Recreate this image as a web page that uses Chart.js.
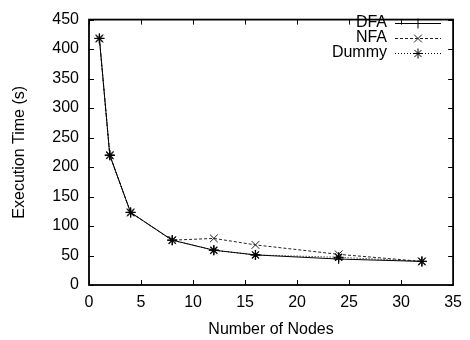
<!DOCTYPE html>
<html><head><meta charset="utf-8">
<script src="https://cdn.jsdelivr.net/npm/chart.js@4/dist/chart.umd.min.js"></script>
<style>html,body{margin:0;padding:0;background:#fff}#wrap{width:470px;height:340px}</style>
</head><body><div id="wrap"><canvas id="c" width="470" height="340"></canvas></div>
<script>
const nodes = [1, 2, 4, 8, 12, 16, 24, 32];
const dfaTimes = [418, 220, 123, 76, 59, 51, 44, 40];
const nfaTimes = [418, 220, 123, 76, 79, 68, 52, 40];
const dummyTimes = [418, 220, 123, 76, 59, 51, 47, 40];
const xTickValues = [0, 5, 10, 15, 20, 25, 30, 35];
const yTickValues = [0, 50, 100, 150, 200, 250, 300, 350, 400, 450];
const seriesLabels = ['DFA', 'NFA', 'Dummy'];

const FONT = 'Liberation Sans, Arial, Helvetica, sans-serif';
const FS = 16;

function pts(ys) { return nodes.map((x, i) => ({x: x, y: ys[i]})); }

const gnuplotFrame = {
  id: 'gnuplotFrame',
  afterDraw(chart) {
    const {ctx, chartArea: a, scales: {x, y}} = chart;
    ctx.save();
    ctx.strokeStyle = '#000';
    ctx.lineWidth = 1;
    ctx.setLineDash([]);
    const L = 5;
    ctx.beginPath();
    x.ticks.forEach(t => {
      const px = Math.round(x.getPixelForValue(t.value)) + 0.5;
      ctx.moveTo(px, a.bottom); ctx.lineTo(px, a.bottom - L);
      ctx.moveTo(px, a.top); ctx.lineTo(px, a.top + L);
    });
    y.ticks.forEach(t => {
      const py = Math.round(y.getPixelForValue(t.value)) + 0.5;
      ctx.moveTo(a.left, py); ctx.lineTo(a.left + L, py);
      ctx.moveTo(a.right, py); ctx.lineTo(a.right - L, py);
    });
    ctx.stroke();
    ctx.lineWidth = 1.8;
    ctx.strokeRect(a.left, a.top, a.right - a.left, a.bottom - a.top);
    ctx.restore();
  }
};

const gnuplotLegend = {
  id: 'gnuplotLegend',
  afterDatasetsDraw(chart) {
    const ctx = chart.ctx;
    ctx.save();
    ctx.font = FS + 'px ' + FONT;
    ctx.fillStyle = '#000';
    ctx.textAlign = 'right';
    ctx.textBaseline = 'middle';
    chart.data.datasets.forEach((ds, i) => {
      const yy = 23 + i * 15;
      ctx.fillText(ds.label, 387, yy);
      ctx.strokeStyle = ds.borderColor;
      ctx.lineWidth = ds.borderWidth;
      ctx.setLineDash(ds.borderDash || []);
      ctx.beginPath();
      ctx.moveTo(395, yy + 0.5); ctx.lineTo(441, yy + 0.5);
      ctx.stroke();
      ctx.setLineDash([]);
      ctx.lineWidth = 1;
      Chart.helpers.drawPoint(ctx, {pointStyle: ds.pointStyle, radius: ds.pointRadius, rotation: 0, borderWidth: 1}, 418, yy + 0.5);
    });
    ctx.restore();
  }
};

new Chart(document.getElementById('c'), {
  type: 'line',
  data: {
    datasets: [
      {label: seriesLabels[0], data: pts(dfaTimes), borderColor: '#000', backgroundColor: '#000',
       borderWidth: 1, pointStyle: 'cross', pointRadius: 5, pointBorderWidth: 1, borderDash: []},
      {label: seriesLabels[1], data: pts(nfaTimes), borderColor: '#222', backgroundColor: '#222',
       borderWidth: 1, pointStyle: 'crossRot', pointRadius: 5.5, pointBorderWidth: 1, borderDash: [3, 2]},
      {label: seriesLabels[2], data: pts(dummyTimes), borderColor: '#000', backgroundColor: '#000',
       borderWidth: 1, pointStyle: 'star', pointRadius: 5, pointBorderWidth: 1.3, borderDash: [1, 2]}
    ]
  },
  options: {
    responsive: false,
    devicePixelRatio: 1,
    animation: false,
    layout: {padding: {top: 11, right: 12, left: 0, bottom: 0}},
    plugins: {legend: {display: false}, tooltip: {enabled: false}},
    elements: {line: {tension: 0}},
    scales: {
      x: {
        type: 'linear', min: 0, max: 35,
        afterBuildTicks: s => { s.ticks = xTickValues.map(v => ({value: v})); },
        afterFit: s => { s.height = 55; },
        grid: {display: false, drawTicks: false},
        border: {display: false},
        ticks: {font: {family: FONT, size: FS}, color: '#000', padding: 8},
        title: {display: true, text: 'Number of Nodes', color: '#000',
                font: {family: FONT, size: FS}, padding: {top: 0, bottom: 1}}
      },
      y: {
        type: 'linear', min: 0, max: 450,
        afterBuildTicks: s => { s.ticks = yTickValues.map(v => ({value: v})); },
        afterFit: s => { s.width = 89; },
        grid: {display: false, drawTicks: false},
        border: {display: false},
        ticks: {font: {family: FONT, size: FS}, color: '#000', padding: 10},
        title: {display: true, text: 'Execution Time (s)', color: '#000',
                font: {family: FONT, size: FS}, padding: {top: 10, bottom: 0}}
      }
    }
  },
  plugins: [gnuplotFrame, gnuplotLegend]
});
</script>
</body></html>
